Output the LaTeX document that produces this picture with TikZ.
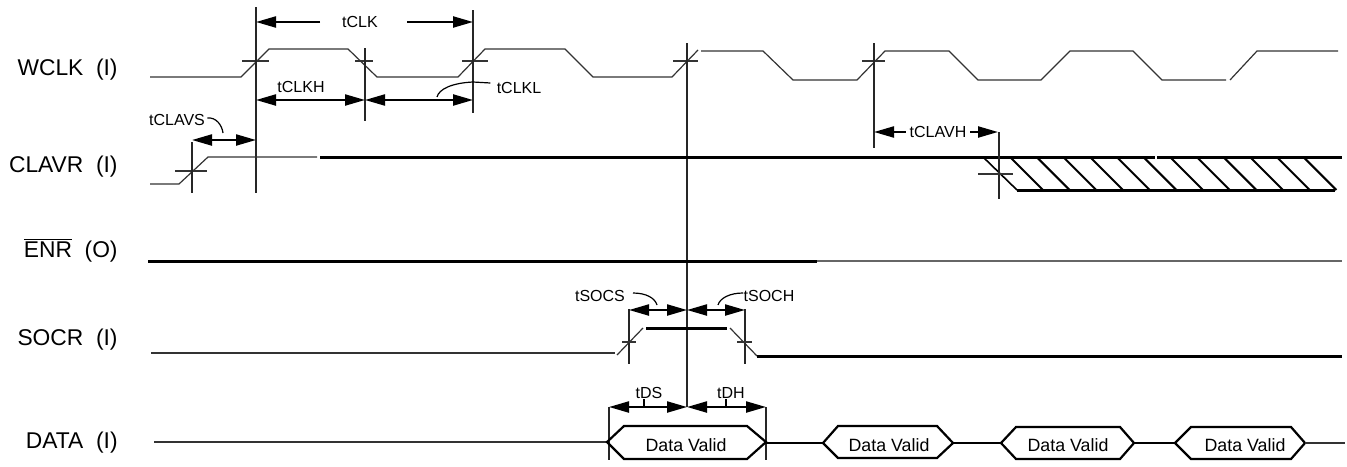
\documentclass[tikz,border=0pt]{standalone}
\usepackage{fontspec}
\setmainfont{Liberation Sans}
\usetikzlibrary{arrows.meta}
\begin{document}
\begin{tikzpicture}[x=0.5pt,y=-0.5pt,
  >={Triangle[length=10pt,width=5.5pt]},
  sig/.style={line width=0.6pt, draw=black!80},
  sigb/.style={line width=1.5pt, draw=black},
  guide/.style={line width=0.65pt, draw=black!85},
  tk/.style={line width=0.6pt, draw=black!80},
  dimarr/.style={line width=1.1pt, draw=black},
  lead/.style={line width=0.6pt, draw=black},
  hatchl/.style={line width=1pt, draw=black},
  dbox/.style={line width=1.1pt, draw=black},
  lbl/.style={font=\fontsize{11.4}{13}\selectfont, anchor=east, inner sep=0pt},
  tl/.style={font=\fontsize{8}{9.6}\selectfont, inner sep=0pt},
  dvt/.style={font=\fontsize{8.9}{10.5}\selectfont, inner sep=0pt}
]
\useasboundingbox (0,0) rectangle (1347,466);

% ---------- signal names
\node[lbl] (lwclk)  at (118,70)  {WCLK~~(I)};
\node[lbl] (lclavr) at (118,167) {CLAVR~~(I)};
\node[lbl] (lenr)   at (118,250) {$\overline{\hbox{ENR}}$~~(O)};
\node[lbl] (lsocr)  at (118,340) {SOCR~~(I)};
\node[lbl] (ldata)  at (118,443) {DATA~~(I)};

% ---------- WCLK
\draw[sig] (150,77) -- (241,77) -- (269,49) -- (348,49) -- (377,77) -- (458,77) -- (485,49)
  -- (565,49) -- (593,77) -- (672,77) -- (698,50);
\draw[sig] (701,51) -- (763,51) -- (793,80) -- (857,80) -- (885,51) -- (949,51) -- (978,80)
  -- (1041,80) -- (1070,51) -- (1133,51) -- (1162,80) -- (1226,80);
\draw[sig] (1230,80) -- (1257,51) -- (1338,51);

% crossing ticks on WCLK
\draw[tk] (242,61) -- (269,61);
\draw[tk] (355,61) -- (373,61);
\draw[tk] (462,61) -- (488,61);
\draw[tk] (673,61) -- (698,61);
\draw[tk] (862,61) -- (885,61);

% vertical reference lines
\coordinate (v1t) at (256,7);   \coordinate (v1b) at (256,193);
\coordinate (v2t) at (365,48);  \coordinate (v2b) at (365,121);
\coordinate (v3t) at (473,10);  \coordinate (v3b) at (473,113);
\coordinate (v4t) at (687,43);  \coordinate (v4b) at (687,407);
\coordinate (v5t) at (874,43);  \coordinate (v5b) at (874,148);
\draw[guide] (v1t) -- (v1b);
\draw[guide] (v2t) -- (v2b);
\draw[guide] (v3t) -- (v3b);
\draw[guide] (v4t) -- (v4b);
\draw[guide] (v5t) -- (v5b);

% tCLK
\node[tl] (ttclk) at (360,22) {tCLK};
\draw[dimarr,->] (320,22) -- (256,22);
\draw[dimarr,->] (407,22) -- (473,22);
% tCLKH / tCLKL
\node[tl] (ttclkh) at (301,87) {tCLKH};
\draw[dimarr,<->] (256,100) -- (365,100);
\draw[dimarr,<->] (365,100) -- (473,100);
\node[tl] (ttclkl) at (519,88) {tCLKL};
\draw[lead] (ttclkl.west) ++(-6,-5) -- (473,82) .. controls (452,83) and (439,89) .. (437,97);

% ---------- CLAVR
\draw[sig] (150,184) -- (179,184) -- (208,157) -- (317,157);
\draw[tk] (175,171) -- (207,171);
\draw[guide] (192,142) -- (192,193);
\node[tl] (ttclavs) at (177,120) {tCLAVS};
\draw[lead] (ttclavs.east) ++(2,-2) .. controls (216,117) and (222,125) .. (223,133);
\draw[dimarr,<->] (192,140) -- (256,140);
\draw[sigb] (320,157) -- (1155,157);
\draw[sigb] (1157,157) -- (1342,157);
% hatched invalid region
\draw[line width=0.8pt] (983,157) -- (1017,190);
\draw[sigb] (1017,190) -- (1335,190);
\foreach \i in {1,...,12}{
  \draw[hatchl] ({983.3+26.67*\i},157) -- ({1016.3+26.67*\i},190);
}
\draw[guide] (999,132) -- (999,199);
\draw[tk] (978,174) -- (1013,174);
\draw[dimarr,<->] (874,132) -- (998,132);
\node[tl, fill=white, inner xsep=2pt, inner ysep=1pt] (ttclavh) at (938,132) {tCLAVH};

% ---------- ENR
\draw[sigb] (148,261) -- (817,261);
\draw[sig, draw=black!60] (817,261) -- (1342,261);

% ---------- SOCR
\draw[sig] (151,353) -- (615,353);
\draw[sig] (617,355) -- (643,328);
\draw[sigb] (646,328) -- (727,328);
\draw[sig] (730,328) -- (757,356);
\draw[sigb] (757,356) -- (1342,356);
\draw[guide] (629,309) -- (629,364);
\draw[guide] (745,309) -- (745,364);
\draw[tk] (622,342) -- (636,342);
\draw[tk] (737,342) -- (752,342);
\draw[dimarr,<->] (629,310) -- (687,310);
\draw[dimarr,<->] (687,310) -- (745,310);
\node[tl] (ttsocs) at (600,296) {tSOCS};
\node[tl] (ttsoch) at (769,296) {tSOCH};
\draw[lead] (633,293) .. controls (646,293) and (655,298) .. (657,305);
\draw[lead] (743,293) .. controls (730,293) and (720,298) .. (718,305);

% ---------- DATA
\draw[guide] (609,407) -- (609,460);
\draw[guide] (766,407) -- (766,460);
\draw[dimarr,<->] (609,407) -- (687,407);
\draw[dimarr,<->] (687,407) -- (766,407);
\node[tl] (ttds) at (649,393) {tDS};
\node[tl] (ttdh) at (731,393) {tDH};
\draw[lead] (644,399) -- (644,406);
\draw[lead] (726,399) -- (726,406);

\draw[sig] (154,442) -- (607,442);
\draw[dbox] (607,442) -- (624,426) -- (747,426) -- (766,442) -- (747,459) -- (624,459) -- cycle;
\node[dvt] (dv1) at (686,445) {Data Valid};
\draw[dbox] (766,443) -- (823,443);
\draw[dbox] (823,443) -- (838,426) -- (937,426) -- (953,443) -- (937,458) -- (838,458) -- cycle;
\node[dvt] (dv2) at (889,445) {Data Valid};
\draw[dbox] (953,443) -- (1001,443);
\draw[dbox] (1001,443) -- (1016,427) -- (1120,427) -- (1134,443) -- (1120,459) -- (1016,459) -- cycle;
\node[dvt] (dv3) at (1068,445) {Data Valid};
\draw[dbox] (1134,443) -- (1175,443);
\draw[dbox] (1175,443) -- (1191,427) -- (1291,427) -- (1305,443) -- (1291,459) -- (1191,459) -- cycle;
\node[dvt] (dv4) at (1245,445) {Data Valid};
\draw[sig] (1305,443) -- (1345,443);
\end{tikzpicture}
\end{document}
